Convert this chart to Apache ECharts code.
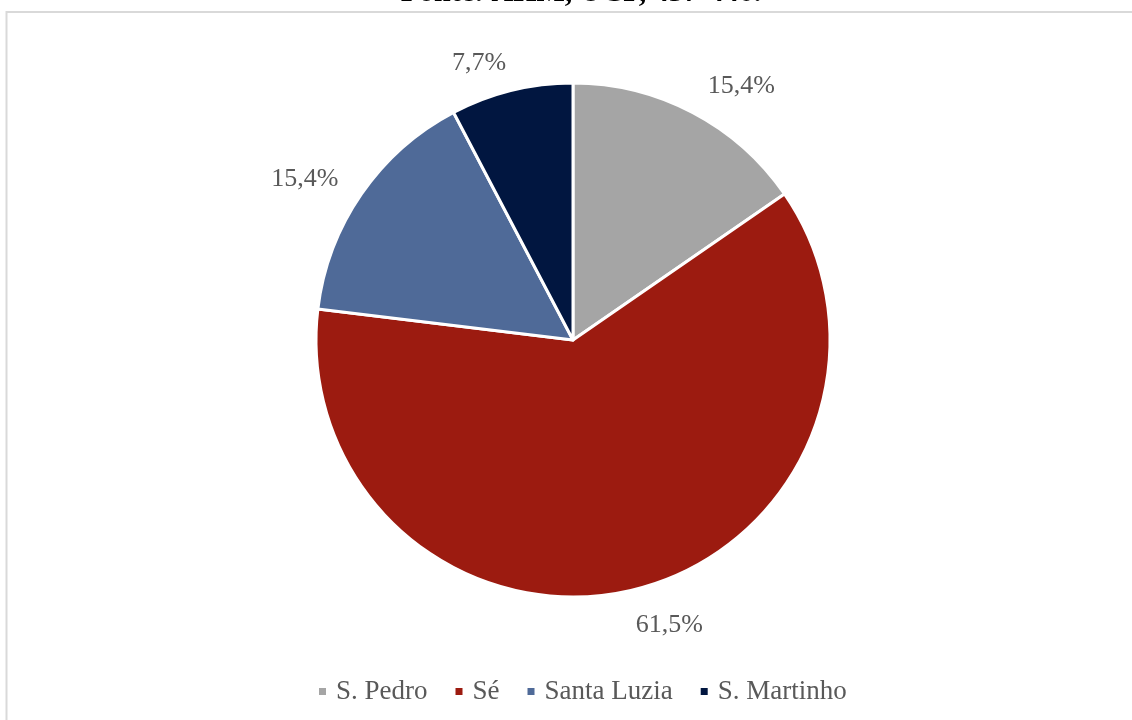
<!DOCTYPE html>
<html>
<head>
<meta charset="utf-8">
<script src="https://cdn.jsdelivr.net/npm/echarts@6/dist/echarts.min.js"></script>
<style>html,body{margin:0;padding:0;background:#fff;}#c{width:1132px;height:720px;}</style>
</head>
<body>
<div id="c"></div>
<script>
const categories = ['S. Pedro', 'Sé', 'Santa Luzia', 'S. Martinho'];
const values = [2, 8, 2, 1];
const colors = ['#A5A5A5', '#9C1B10', '#4F6A98', '#011640'];
const sourceText = 'Fonte: AHM, UCP, 437-440.';

const labelNudge = [[0, -7], [-9, 14], [0, -2], [5, -6]];

const chart = echarts.init(document.getElementById('c'));
const font = '"Liberation Serif", "Times New Roman", serif';
chart.setOption({
  animation: false,
  graphic: [
    { type: 'rect', shape: { x: 6.5, y: 12, width: 1300, height: 900 }, style: { fill: 'none', stroke: '#D9D9D9', lineWidth: 2 }, z: -1 },
    { type: 'text', x: 581, y: -22, style: { text: sourceText, font: 'bold 30px ' + font, fill: '#000', textAlign: 'center' } }
  ],
  legend: {
    bottom: 10, left: 312,
    icon: 'rect', itemWidth: 9, itemHeight: 9, itemGap: 26,
    textStyle: { fontFamily: font, fontSize: 27, color: '#595959', padding: [0, 0, 0, 4] },
    data: categories
  },
  series: [{
    type: 'pie',
    center: [573, 340],
    radius: 257,
    startAngle: 90,
    clockwise: true,
    data: categories.map((n, i) => ({ name: n, value: values[i], itemStyle: { color: colors[i] } })),
    itemStyle: { borderColor: '#fff', borderWidth: 3 },
    label: {
      show: true, position: 'outside',
      formatter: p => (p.value / values.reduce((a, b) => a + b, 0) * 100).toFixed(1).replace('.', ',') + '%',
      fontFamily: font, fontSize: 26, color: '#595959'
    },
    labelLine: { show: false, length: 22, length2: 0 },
    labelLayout: p => ({ dx: labelNudge[p.dataIndex][0], dy: labelNudge[p.dataIndex][1] })
  }]
});
</script>
</body>
</html>
